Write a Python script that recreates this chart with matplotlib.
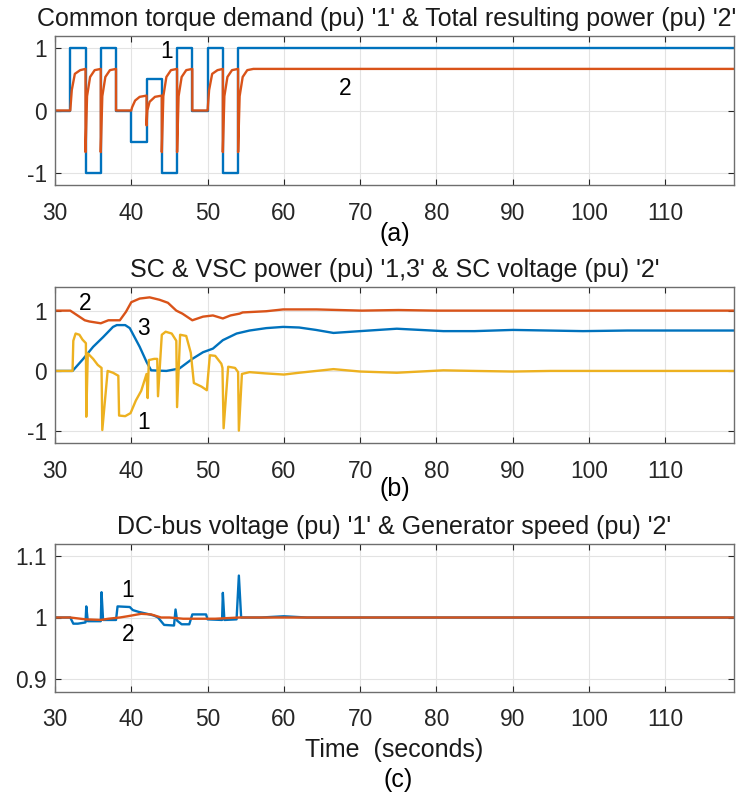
import numpy as np
import matplotlib
matplotlib.use("Agg")
import matplotlib.pyplot as plt

plt.rcParams['font.family'] = ['Liberation Sans', 'DejaVu Sans']
plt.rcParams['axes.unicode_minus'] = False

BLUE = "#0072BD"
ORANGE = "#D95319"
YELLOW = "#EDB120"

# (a) torque demand '1' and total power '2'
torque_t = [30, 32, 32, 34, 34, 36, 36, 38, 38, 40, 40, 42, 42, 44, 44, 46, 46, 48, 48,
            50, 50, 52, 52, 54, 54, 119]
torque_v = [0, 0, 1, 1, -1, -1, 1, 1, 0, 0, -0.5, -0.5, 0.5, 0.5, -1, -1, 1, 1, 0,
            0, 1, 1, -1, -1, 1, 1]

power_t = [30, 32, 32.2, 32.6, 33.3, 34,
           34, 34.2, 34.6, 35.2, 36,
           36, 36.2, 36.6, 37.2, 38,
           38, 40, 40.1, 40.5, 41.1, 42,
           42, 42.1, 42.4, 43.1, 44,
           44, 44.2, 44.6, 45.2, 46,
           46, 46.2, 46.6, 47.2, 48,
           48, 50, 50.2, 50.6, 51.3, 52,
           52, 52.2, 52.6, 53.2, 54,
           54, 54.2, 54.6, 55.2, 56, 119]
power_v = [0, 0, 0.33, 0.59, 0.65, 0.67,
           -0.67, 0.23, 0.54, 0.65, 0.67,
           -0.67, 0.23, 0.54, 0.65, 0.67,
           0, 0, 0.05, 0.16, 0.22, 0.24,
           -0.24, 0.0, 0.14, 0.22, 0.24,
           -0.67, 0.23, 0.54, 0.65, 0.67,
           -0.67, 0.23, 0.54, 0.65, 0.67,
           0, 0, 0.33, 0.59, 0.65, 0.67,
           -0.67, 0.23, 0.54, 0.65, 0.67,
           -0.67, 0.23, 0.54, 0.65, 0.67, 0.67]

# (b) SC power '1', SC voltage '2', VSC power '3'
scp_t = [30, 32.3, 32.4, 32.7, 33.2, 33.6, 34.05, 34.1, 34.3, 35.0, 35.6, 36.1, 36.2,
         36.9, 37.6, 38.3, 38.4, 39.2, 39.9, 40.6, 41.3, 42.0, 42.15, 42.3, 43.0, 43.4,
         43.5, 44.0, 44.5, 45.3, 45.9, 46.0, 46.4, 47.2, 47.8, 48.2, 49.2, 49.9, 50.3,
         51.0, 51.8, 51.95, 52.1, 52.7, 53.6, 54.0, 54.1, 54.5, 55.5, 57.5, 60,
         62, 66.5, 70, 74.8, 80.9, 85, 90, 95, 99.2, 105, 119]
scp_v = [0, 0, 0.5, 0.62, 0.6, 0.52, 0.46, -0.76, 0.29, 0.2, 0.1, 0.05, -0.98,
         0.0, -0.03, -0.08, -0.74, -0.75, -0.7, -0.49, -0.33, -0.05, -0.45, 0.18, 0.2, 0.2,
         -0.42, 0.6, 0.65, 0.62, 0.5, -0.6, 0.6, 0.58, 0.3, -0.2, -0.26, -0.32, 0.26,
         0.25, 0.12, 0.05, -0.95, 0.07, 0.05, -0.02, -0.99, -0.05, -0.02, -0.04, -0.06,
         -0.03, 0.03, -0.01, -0.03, 0.01, 0.0, -0.01, 0.0, 0.0, 0.0, 0.0]

scv_t = [30, 32, 33.9, 34.5, 36, 37, 38.5, 39.3, 40, 41.1, 42.4, 43.7, 44.8, 45.9, 46.7,
         48, 49.4, 50.7, 52, 53, 54.2, 54.6, 57.7, 59.9, 64.3, 70.2, 75, 80, 90, 100, 119]
scv_v = [1.0, 1.0, 0.84, 0.82, 0.79, 0.84, 0.84, 0.98, 1.14, 1.2, 1.22, 1.18, 1.13, 1.0, 0.95,
         0.84, 0.9, 0.92, 0.87, 0.92, 0.95, 0.97, 0.99, 1.02, 1.02, 1.0, 1.01, 1.0, 1.0, 1.0, 1.0]

vsc_t = [30, 32.3, 33.7, 35, 36.3, 37.6, 38.1, 39.2, 39.8, 41.1, 42, 42.6, 44.6, 46.3, 48,
         49.4, 50.7, 52, 53.8, 55.5, 57.7, 59.9, 62, 64.2, 66.5, 70, 74.8, 80.9, 85, 90,
         99.2, 105, 119]
vsc_v = [0, 0, 0.2, 0.4, 0.56, 0.73, 0.76, 0.76, 0.71, 0.4, 0.15, 0.01, 0.0, 0.04, 0.2,
         0.31, 0.37, 0.51, 0.62, 0.67, 0.71, 0.73, 0.72, 0.68, 0.63, 0.66, 0.7, 0.66, 0.66, 0.68,
         0.66, 0.67, 0.67]

# (c) DC-bus voltage '1' and generator speed '2'
dc_t = [30, 32, 32.4, 33, 34, 34.1, 34.3, 36, 36.1, 36.3, 38, 38.2, 39.8, 40.2, 41, 42.4,
        43, 43.5, 44.3, 45.6, 45.8, 46.0, 46.6, 47.6, 48, 49.8, 50, 51.9, 52.0, 52.2,
        53.8, 54.1, 54.4, 57, 60, 63, 119]
dc_v = [1.0, 1.0, 0.99, 0.99, 0.992, 1.018, 0.994, 0.994, 1.041, 0.996, 0.996, 1.018, 1.017,
        1.012, 1.009, 1.005, 1.003, 1.0, 0.988, 0.987, 1.013, 0.995, 0.989, 0.989, 1.005,
        1.005, 0.997, 0.996, 1.04, 0.996, 0.997, 1.068, 1.0, 1.0, 1.002, 1.0, 1.0]

spd_t = [30, 32, 34, 36, 37, 38.5, 39.5, 41.3, 42.6, 43.9, 45, 46.8, 49, 51, 54.2, 119]
spd_v = [1.0, 1.0, 0.997, 0.996, 0.998, 1.0, 1.002, 1.006, 1.005, 1.0, 1.0, 0.998, 0.998,
         0.998, 1.0, 1.0]

fig = plt.figure(figsize=(7.41, 7.96), dpi=100)
W, H = 741, 796
left, right = 55, 734
FS = 16.4
TFS = 18


def make_ax(top, bottom):
    ax = fig.add_axes([left / W, 1 - bottom / H, (right - left) / W, (bottom - top) / H])
    ax.grid(True, color="#e3e3e3", lw=0.8)
    ax.set_axisbelow(True)
    ax.tick_params(direction="in", top=True, right=True, length=4, labelsize=FS,
                   colors="#262626", width=0.8)
    ax.tick_params(axis="x", pad=12)
    ax.tick_params(axis="y", pad=6)
    for s in ax.spines.values():
        s.set_color("#6e6e6e")
        s.set_linewidth(1.0)
    ax.set_xlim(30, 119)
    ax.set_xticks(np.arange(30, 111, 10))
    return ax


lw = 1.7

ax1 = make_ax(36, 185)
ax1.plot(torque_t, torque_v, color=BLUE, lw=lw)
ax1.plot(power_t, power_v, color=ORANGE, lw=lw)
ax1.set_ylim(-1.2, 1.2)
ax1.set_yticks([-1, 0, 1])
ax1.set_title("Common torque demand (pu) '1' & Total resulting power (pu) '2'",
              fontsize=TFS, color="#1a1a1a", pad=7, x=0.488)
ax1.text(44.6, 0.95, "1", fontsize=FS, ha="center", va="center")
ax1.text(68, 0.36, "2", fontsize=FS, ha="center", va="center")
ax1.text(0.5, -0.33, "(a)", transform=ax1.transAxes, fontsize=TFS, ha="center", va="center")

ax2 = make_ax(286.5, 443.3)
ax2.plot(scv_t, scv_v, color=ORANGE, lw=lw)
ax2.plot(vsc_t, vsc_v, color=BLUE, lw=lw)
ax2.plot(scp_t, scp_v, color=YELLOW, lw=lw)
ax2.set_ylim(-1.2, 1.4)
ax2.set_yticks([-1, 0, 1])
ax2.set_title("SC & VSC power (pu) '1,3' & SC voltage (pu) '2'",
              fontsize=TFS, color="#1a1a1a", pad=7)
ax2.text(33.9, 1.12, "2", fontsize=FS, ha="center", va="center")
ax2.text(41.6, 0.70, "3", fontsize=FS, ha="center", va="center")
ax2.text(41.6, -0.85, "1", fontsize=FS, ha="center", va="center")
ax2.text(0.5, -0.29, "(b)", transform=ax2.transAxes, fontsize=TFS, ha="center", va="center")

ax3 = make_ax(543.5, 691.5)
ax3.plot(dc_t, dc_v, color=BLUE, lw=lw)
ax3.plot(spd_t, spd_v, color=ORANGE, lw=lw)
ax3.set_ylim(0.88, 1.12)
ax3.set_yticks([0.9, 1, 1.1])
ax3.set_yticklabels(["0.9", "1", "1.1"])
ax3.set_title("DC-bus voltage (pu) '1' & Generator speed (pu) '2'",
              fontsize=TFS, color="#1a1a1a", pad=7)
ax3.text(39.5, 1.044, "1", fontsize=FS, ha="center", va="center")
ax3.text(39.6, 0.973, "2", fontsize=FS, ha="center", va="center")
ax3.set_xlabel("Time  (seconds)", fontsize=TFS, color="#1a1a1a", labelpad=5)
ax3.text(0.505, -0.6, "(c)", transform=ax3.transAxes, fontsize=TFS, ha="center", va="center")

fig.savefig("out.png", dpi=100)
